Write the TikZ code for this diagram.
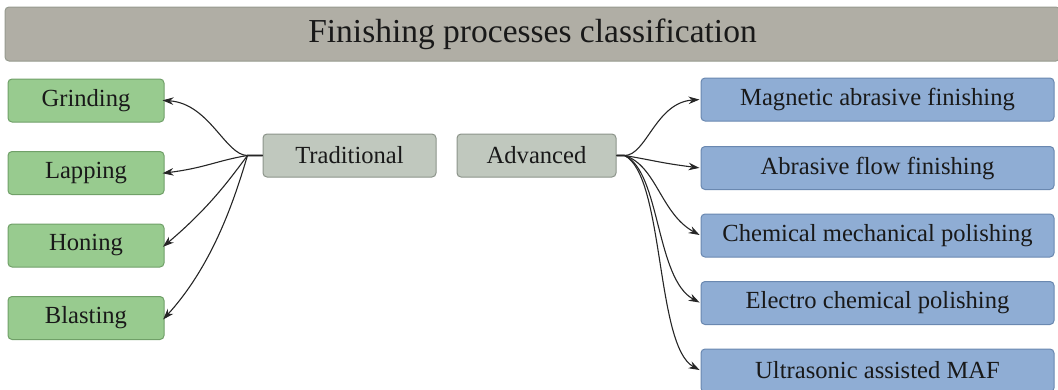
\documentclass[tikz,border=0pt]{standalone}
\usepackage{fontspec}
\setmainfont{Liberation Serif}
\usetikzlibrary{arrows.meta}

\definecolor{headfill}{RGB}{176,174,165}
\definecolor{headline}{RGB}{150,154,142}
\definecolor{tradfill}{RGB}{152,203,143}
\definecolor{tradline}{RGB}{112,160,104}
\definecolor{groupfill}{RGB}{192,200,190}
\definecolor{groupline}{RGB}{140,148,138}
\definecolor{advfill}{RGB}{143,173,212}
\definecolor{advline}{RGB}{106,136,176}

\tikzset{
    box/.style={draw, line width=1pt, rounded corners=4pt, minimum height=43pt,
        inner sep=0pt, text=black!90, font=\fontsize{24.6}{28}\selectfont},
    greenbox/.style={box, fill=tradfill, draw=tradline, minimum width=156pt},
    greybox/.style={box, fill=groupfill, draw=groupline},
    bluebox/.style={box, fill=advfill, draw=advline, minimum width=353pt},
    link/.style={->, line width=1.1pt, black!85},
}

\begin{document}
\begin{tikzpicture}[x=1pt, y=1pt, >={Stealth[length=11pt,width=7.5pt]}]
    \useasboundingbox (0,0) rectangle (1058,-389);

    \node[box, fill=headfill, draw=headline, minimum width=1055pt, minimum height=54pt,
        font=\fontsize{33.5}{38}\selectfont] (head) at (532.5,-34) {Finishing processes classification};

    % the two groups
    \node[greybox, minimum width=173pt] (trad) at (349.5,-155.5) {Traditional};
    \node[greybox, minimum width=159pt] (adv) at (536.5,-155.5) {Advanced};

    % traditional processes
    \foreach \name/\txt/\y in {grind/Grinding/100.5, lap/Lapping/173,
                               hon/Honing/245.5, blast/Blasting/318}
        \node[greenbox] (\name) at (86,-\y) {\txt};

    % advanced processes
    \foreach \name/\txt/\y in {maf/Magnetic abrasive finishing/99.5,
                               aff/Abrasive flow finishing/168,
                               cmp/Chemical mechanical polishing/235.5,
                               ecp/Electro chemical polishing/303,
                               umaf/Ultrasonic assisted MAF/370.5}
        \node[bluebox] (\name) at (877.5,-\y) {\txt};

    \draw[link, shorten >=-2pt] (trad.west) -- ++(-15,0) .. controls +(-22,0) and +(45,-3) .. (grind.east);
    \draw[link, shorten >=-2pt] (trad.west) -- ++(-15,0) .. controls +(-30,-5) and +(40,5) .. (lap.east);
    \draw[link, shorten >=-2pt] (trad.west) -- ++(-15,0) .. controls +(-18,-24) and +(45,38) .. (hon.east);
    \draw[link, shorten >=-2pt] (trad.west) -- ++(-15,0) .. controls +(-12,-40) and +(50,55) .. (blast.east);

    \draw[link, shorten >=1pt] (adv.east) -- ++(8,0) .. controls +(22,0) and +(-45,-3) .. (maf.west);
    \draw[link, shorten >=1pt] (adv.east) -- ++(8,0) .. controls +(30,-5) and +(-40,5) .. (aff.west);
    \draw[link, shorten >=1pt] (adv.east) -- ++(8,0) .. controls +(32,-10) and +(-40,22) .. (cmp.west);
    \draw[link, shorten >=1pt] (adv.east) -- ++(8,0) .. controls +(36,-16) and +(-45,24) .. (ecp.west);
    \draw[link, shorten >=1pt] (adv.east) -- ++(8,0) .. controls +(40,-20) and +(-45,24) .. (umaf.west);
\end{tikzpicture}
\end{document}
